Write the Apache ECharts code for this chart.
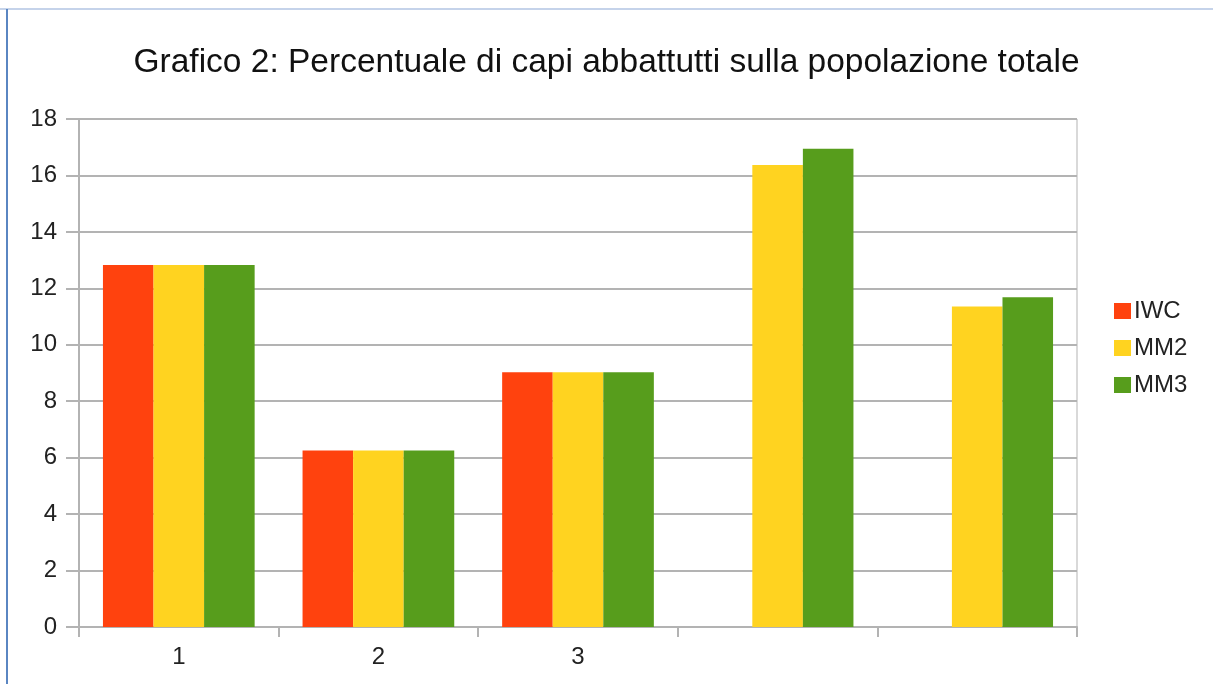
<!DOCTYPE html>
<html>
<head>
<meta charset="utf-8">
<script src="https://cdn.jsdelivr.net/npm/echarts@6/dist/echarts.min.js"></script>
<style>
html, body { margin: 0; padding: 0; background: #fff; }
#main { width: 1213px; height: 684px; }
</style>
</head>
<body>
<div id="main"></div>
<script>
// dati
const categories = ['1', '2', '3', '', ''];
const iwc = [12.83, 6.25, 9.03, null, null];
const mm2 = [12.83, 6.25, 9.03, 16.37, 11.36];
const mm3 = [12.83, 6.25, 9.03, 16.95, 11.68];
const yTicks = [0, 2, 4, 6, 8, 10, 12, 14, 16, 18];

const chart = echarts.init(document.getElementById('main'));
const font = '"Liberation Sans", Arial, sans-serif';
const gridColor = '#b3b3b3';

function bar(name, data, color){
    return {
        name: name,
        type: 'bar',
        data: data,
        barGap: '0%',
        barCategoryGap: '24%',
        itemStyle: {color: color},
        emphasis: {disabled: true}
    };
}

const option = {
    animation: false,
    backgroundColor: '#fff',
    title: {
        text: 'Grafico 2: Percentuale di capi abbattutti sulla popolazione totale',
        left: 'center',
        top: 41,
        textStyle: {fontFamily: font, fontSize: 33.5, fontWeight: 'normal', color: '#111'}
    },
    legend: {
        orient: 'vertical',
        left: 1109,
        top: 294,
        itemWidth: 17,
        itemHeight: 16,
        itemGap: 13,
        icon: 'rect',
        data: ['IWC', 'MM2', 'MM3'],
        textStyle: {fontFamily: font, fontSize: 24, color: '#222', padding: [0, 0, 0, -2]}
    },
    grid: {
        left: 79, right: 136, top: 119, bottom: 57,
        show: true, borderColor: gridColor, borderWidth: 1
    },
    xAxis: {
        type: 'category',
        data: categories,
        axisLine: {lineStyle: {color: gridColor, width: 2}},
        axisTick: {show: true, length: 10, lineStyle: {color: gridColor, width: 2}},
        axisLabel: {fontFamily: font, fontSize: 24, color: '#222', margin: 18}
    },
    yAxis: {
        type: 'value',
        min: yTicks[0],
        max: yTicks[yTicks.length - 1],
        interval: 2,
        axisLine: {show: true, lineStyle: {color: gridColor, width: 2}},
        axisTick: {show: true, length: 13, lineStyle: {color: gridColor, width: 2}},
        splitLine: {lineStyle: {color: gridColor, width: 2}},
        axisLabel: {fontFamily: font, fontSize: 24, color: '#222', margin: 22}
    },
    series: [
        bar('IWC', iwc, '#FF420E'),
        bar('MM2', mm2, '#FFD320'),
        bar('MM3', mm3, '#579D1C')
    ],
    graphic: [
        {type: 'line', shape: {x1: 0, y1: 9, x2: 1213, y2: 9}, style: {stroke: '#c5d3ea', lineWidth: 2}},
        {type: 'line', shape: {x1: 7, y1: 9, x2: 7, y2: 684}, style: {stroke: '#5a86c2', lineWidth: 2}}
    ]
};
chart.setOption(option);
</script>
</body>
</html>
